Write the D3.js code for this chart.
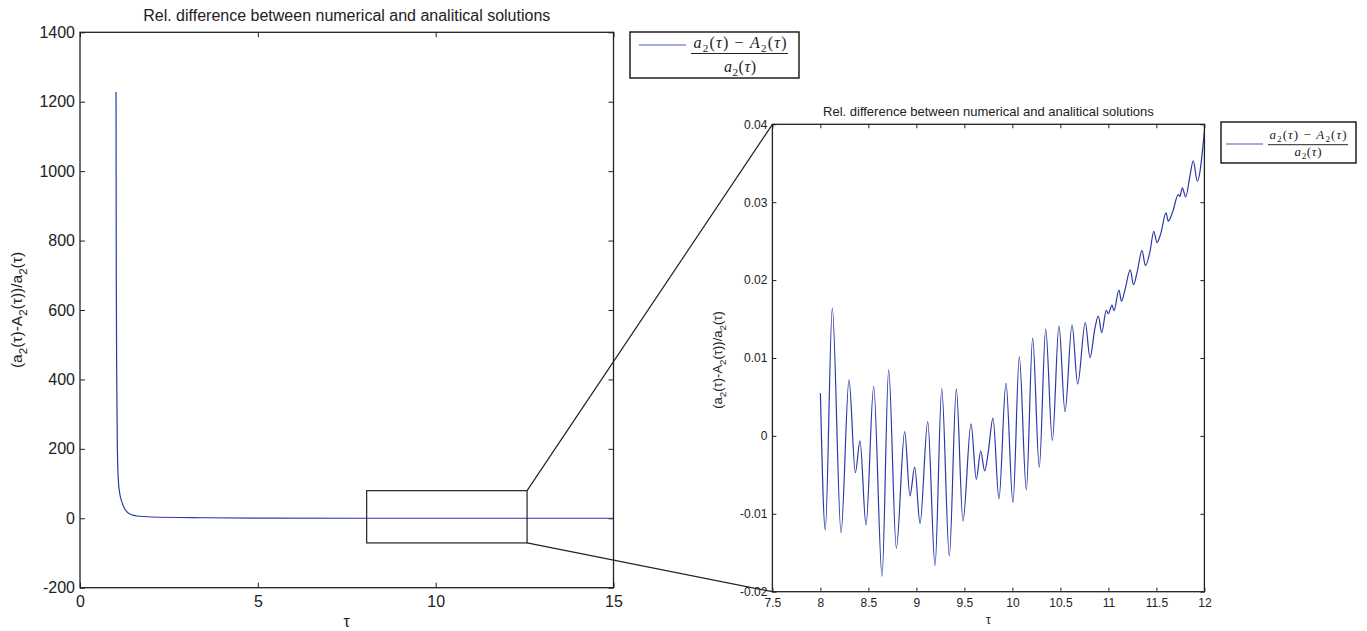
<!DOCTYPE html>
<html>
<head>
<meta charset="utf-8">
<script src="https://cdn.jsdelivr.net/npm/d3@7"></script>
<style>
  html, body { margin: 0; padding: 0; background: #fff; }
  svg { display: block; font-family: "Liberation Sans", Arial, Helvetica, sans-serif; }
</style>
</head>
<body>
<svg id="chart" width="1367" height="631"></svg>
<script>
// ---------------- DATA ----------------
const chartTitle = "Rel. difference between numerical and analitical solutions";
const xLabel = "τ";

// Left (full) plot
const leftTau = [1.013, 1.02, 1.033, 1.05, 1.078, 1.12, 1.174, 1.24, 1.314, 1.45, 1.596, 2.02, 3.5, 5, 8, 15];
const leftVal = [1228, 700, 400, 206, 110, 70, 48, 30, 19, 10, 6.6, 3.7, 1.5, 0.3, 0.02, 0.03];
const leftXTicks = [0, 5, 10, 15];
const leftXTickLabels = ["0", "5", "10", "15"];
const leftYTicks = [-200, 0, 200, 400, 600, 800, 1000, 1200, 1400];
const leftYTickLabels = ["-200", "0", "200", "400", "600", "800", "1000", "1200", "1400"];
const zoomBoxTau = [8.06, 12.57];
const zoomBoxVal = [-71, 79.5];

// Right (zoomed) plot
const rightTau = [8.0, 8.051, 8.124, 8.215, 8.298, 8.364, 8.4125, 8.475, 8.555, 8.642,
  8.711, 8.791, 8.878, 8.933, 8.982, 9.038, 9.118, 9.194, 9.264, 9.343,
  9.416, 9.485, 9.569, 9.624, 9.67, 9.711, 9.746, 9.798, 9.86, 9.933,
  10.006, 10.072, 10.145, 10.211, 10.28, 10.347, 10.416, 10.485, 10.548, 10.621,
  10.68, 10.759, 10.808, 10.86, 10.895, 10.93, 10.978, 10.999, 11.038, 11.058,
  11.11, 11.136, 11.173, 11.228, 11.261, 11.298, 11.35, 11.386, 11.433, 11.473,
  11.506, 11.548, 11.6, 11.624, 11.67, 11.728, 11.745, 11.77, 11.805, 11.85,
  11.884, 11.926, 12.0];
const rightVal = [0.00549, -0.01208, 0.01641, -0.01243, 0.0072, -0.00472, -0.00064, -0.01144, 0.00634, -0.018,
  0.00848, -0.01443, 0.00055, -0.00771, -0.00402, -0.01122, 0.00184, -0.01667, 0.00604, -0.01542,
  0.006, -0.01093, 0.00154, -0.00557, -0.00193, -0.0045, -0.00231, 0.00228, -0.0081, 0.00677,
  -0.00857, 0.01019, -0.00694, 0.01256, -0.00402, 0.01371, -0.0006, 0.01414, 0.00312, 0.01427,
  0.00665, 0.01456, 0.01006, 0.01384, 0.01539, 0.01324, 0.01613, 0.01568, 0.0168, 0.01607,
  0.01873, 0.01729, 0.01877, 0.0213, 0.01941, 0.02095, 0.02378, 0.02185, 0.02365, 0.02626,
  0.02481, 0.02609, 0.02862, 0.02757, 0.02879, 0.03098, 0.03072, 0.03184, 0.03068, 0.03342,
  0.03532, 0.03271, 0.03911];
const rightXTicks = [7.5, 8, 8.5, 9, 9.5, 10, 10.5, 11, 11.5, 12];
const rightXTickLabels = ["7.5", "8", "8.5", "9", "9.5", "10", "10.5", "11", "11.5", "12"];
const rightYTicks = [-0.02, -0.01, 0, 0.01, 0.02, 0.03, 0.04];
const rightYTickLabels = ["-0.02", "-0.01", "0", "0.01", "0.02", "0.03", "0.04"];

// ---------------- DRAW ----------------
const svg = d3.select("#chart");
const lineColor = "#2b3aa3";
const frameColor = "#222";
const SANS = "Liberation Sans, Arial, Helvetica, sans-serif";
const SERIF = "Liberation Serif, 'Times New Roman', serif";

function drawPlot(cfg) {
  const g = svg.append("g");
  const x = d3.scaleLinear().domain(cfg.xDomain).range([cfg.left, cfg.right]);
  const y = d3.scaleLinear().domain(cfg.yDomain).range([cfg.bottom, cfg.top]);

  const clipId = "clip" + cfg.id;
  svg.append("clipPath").attr("id", clipId).append("rect")
    .attr("x", cfg.left).attr("y", cfg.top)
    .attr("width", cfg.right - cfg.left).attr("height", cfg.bottom - cfg.top);

  const ax = (axis, tx, ty, labels, vals, pad, showLabels) => {
    const a = axis.tickValues(vals).tickSizeInner(-cfg.tick).tickSizeOuter(0).tickPadding(pad)
      .tickFormat((d, i) => showLabels ? labels[i] : "");
    const gg = g.append("g").attr("transform", `translate(${tx},${ty})`).call(a);
    gg.select(".domain").remove();
    gg.selectAll("line").attr("stroke", frameColor).attr("stroke-width", 1);
    gg.selectAll("text").attr("font-size", cfg.fs).attr("font-family", SANS).attr("fill", "#222");
    return gg;
  };
  ax(d3.axisBottom(x), 0, cfg.bottom, cfg.xLabels, cfg.xTicks, cfg.xPad, true);
  ax(d3.axisTop(x), 0, cfg.top, cfg.xLabels, cfg.xTicks, 0, false);
  ax(d3.axisLeft(y), cfg.left, 0, cfg.yLabels, cfg.yTicks, cfg.yPad, true);
  ax(d3.axisRight(y), cfg.right, 0, cfg.yLabels, cfg.yTicks, 0, false);

  const pts = cfg.tau.map((t, i) => [t, cfg.val[i]]);
  g.append("path")
    .attr("clip-path", `url(#${clipId})`)
    .attr("d", d3.line().x(d => x(d[0])).y(d => y(d[1])).curve(d3.curveMonotoneX)(pts))
    .attr("fill", "none").attr("stroke", lineColor).attr("stroke-width", 1.2);

  g.append("rect").attr("x", cfg.left).attr("y", cfg.top)
    .attr("width", cfg.right - cfg.left).attr("height", cfg.bottom - cfg.top)
    .attr("fill", "none").attr("stroke", frameColor).attr("stroke-width", 1.3);

  g.append("text").attr("x", (cfg.left + cfg.right) / 2).attr("y", cfg.titleY)
    .attr("text-anchor", "middle").attr("font-size", cfg.titleFs).attr("fill", "#222").text(chartTitle);
  g.append("text").attr("x", (cfg.left + cfg.right) / 2).attr("y", cfg.xLabelY)
    .attr("text-anchor", "middle").attr("font-size", cfg.fs).attr("fill", "#222").text(xLabel);
  const yl = g.append("text")
    .attr("transform", `translate(${cfg.yLabelX},${cfg.yLabelY}) rotate(-90)`)
    .attr("text-anchor", "middle").attr("font-size", cfg.yLabelFs).attr("fill", "#222");
  const parts = [["(a", 0], ["2", 1], ["(τ)-A", 0], ["2", 1], ["(τ))/a", 0], ["2", 1], ["(τ)", 0]];
  let shifted = false;
  parts.forEach(([t, sub]) => {
    const ts = yl.append("tspan").text(t);
    if (sub && !shifted) { ts.attr("dy", cfg.yLabelFs * 0.3).attr("font-size", cfg.yLabelFs * 0.75); shifted = true; }
    else if (!sub && shifted) { ts.attr("dy", -cfg.yLabelFs * 0.3); shifted = false; }
  });
  return { x, y };
}

const Lp = drawPlot({
  id: "L", left: 80, right: 613.5, top: 32.3, bottom: 587.7,
  xDomain: [0, 15], yDomain: [-200, 1400],
  xTicks: leftXTicks, xLabels: leftXTickLabels, yTicks: leftYTicks, yLabels: leftYTickLabels,
  tau: leftTau, val: leftVal, tick: 5, fs: 16, xPad: 8, yPad: 5,
  titleFs: 16, titleY: 21, xLabelY: 627, yLabelX: 22, yLabelY: 310, yLabelFs: 15.5
});

const Rp = drawPlot({
  id: "R", left: 772.4, right: 1204.4, top: 124.3, bottom: 591.7,
  xDomain: [7.5, 12], yDomain: [-0.02, 0.04],
  xTicks: rightXTicks, xLabels: rightXTickLabels, yTicks: rightYTicks, yLabels: rightYTickLabels,
  tau: rightTau, val: rightVal, tick: 4, fs: 12, xPad: 7, yPad: 5,
  titleFs: 13, titleY: 116, xLabelY: 624, yLabelX: 722, yLabelY: 360, yLabelFs: 13
});

// zoom box and connectors
const bx0 = Lp.x(zoomBoxTau[0]), bx1 = Lp.x(zoomBoxTau[1]);
const by0 = Lp.y(zoomBoxVal[1]), by1 = Lp.y(zoomBoxVal[0]);
svg.append("rect").attr("x", bx0).attr("y", by0).attr("width", bx1 - bx0).attr("height", by1 - by0)
  .attr("fill", "none").attr("stroke", frameColor).attr("stroke-width", 1.2);
const rx = Rp.x(7.5), ryTop = Rp.y(0.04), ryBot = Rp.y(-0.02);
svg.append("line").attr("x1", bx1).attr("y1", by0).attr("x2", rx).attr("y2", ryTop)
  .attr("stroke", frameColor).attr("stroke-width", 1.2);
svg.append("line").attr("x1", bx1).attr("y1", by1).attr("x2", rx).attr("y2", ryBot)
  .attr("stroke", frameColor).attr("stroke-width", 1.2);

// legends with LaTeX-like fraction
function mathLine(g, cx, baseline, parts, fs, len) {
  const t = g.append("text").attr("x", cx).attr("y", baseline).attr("text-anchor", "middle")
    .attr("font-size", fs).attr("fill", "#222").style("font-family", SERIF);
  if (len) t.attr("textLength", len).attr("lengthAdjust", "spacing");
  let shifted = false;
  parts.forEach(p => {
    const ts = t.append("tspan").text(p.t);
    if (p.i) ts.style("font-style", "italic");
    if (p.sub && !shifted) { ts.attr("dy", fs * 0.22).attr("font-size", fs * 0.7); shifted = true; }
    else if (!p.sub && shifted) { ts.attr("dy", -fs * 0.22); shifted = false; }
  });
}
const numParts = [{t:"a",i:1},{t:"2",sub:1},{t:"("},{t:"τ",i:1},{t:") − "},{t:"A",i:1},{t:"2",sub:1},{t:"("},{t:"τ",i:1},{t:")"}];
const denParts = [{t:"a",i:1},{t:"2",sub:1},{t:"("},{t:"τ",i:1},{t:")"}];

function legend(cfg) {
  const g = svg.append("g");
  g.append("rect").attr("x", cfg.x).attr("y", cfg.y).attr("width", cfg.w).attr("height", cfg.h)
    .attr("fill", "#fff").attr("stroke", "#111").attr("stroke-width", 1.4);
  g.append("line").attr("x1", cfg.lx0).attr("x2", cfg.lx1).attr("y1", cfg.ly).attr("y2", cfg.ly)
    .attr("stroke", "#4a5ac0").attr("stroke-width", 1.2);
  mathLine(g, cfg.cx, cfg.numY, numParts, cfg.fs, cfg.numLen);
  g.append("line").attr("x1", cfg.bar0).attr("x2", cfg.bar1).attr("y1", cfg.barY).attr("y2", cfg.barY)
    .attr("stroke", "#222").attr("stroke-width", 1);
  mathLine(g, cfg.cx, cfg.denY, denParts, cfg.fs, cfg.denLen);
}
legend({ x: 630, y: 32, w: 169, h: 46, lx0: 639, lx1: 686, ly: 45,
  cx: 740, numY: 48, barY: 53.5, bar0: 691, bar1: 788, denY: 72, fs: 16, numLen: 93, denLen: 32 });
legend({ x: 1221, y: 122, w: 135, h: 41, lx0: 1226, lx1: 1263, ly: 144,
  cx: 1308, numY: 139, barY: 144.7, bar0: 1268, bar1: 1348, denY: 156, fs: 13, numLen: 77, denLen: 27 });
</script>
</body>
</html>
